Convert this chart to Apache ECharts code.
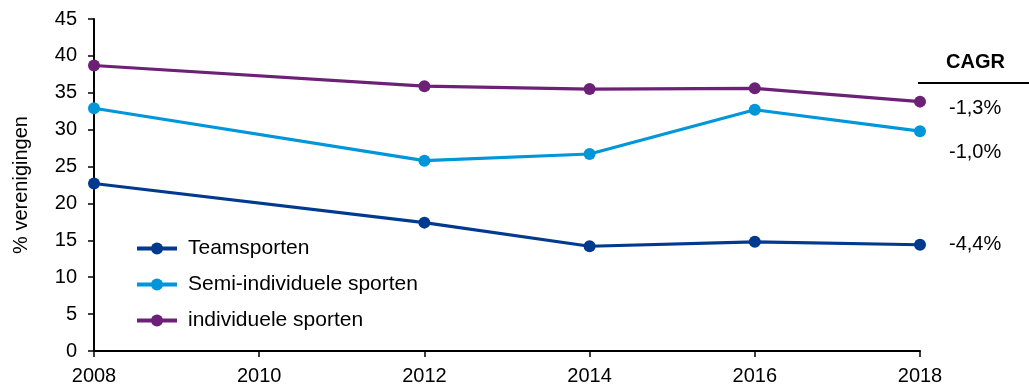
<!DOCTYPE html>
<html><head><meta charset="utf-8">
<script src="https://cdn.jsdelivr.net/npm/echarts@6/dist/echarts.min.js"></script>
<style>html,body{margin:0;padding:0;background:#fff}#c{width:1029px;height:386px}</style>
</head><body><div id="c"></div>
<script>
const years = [2008, 2012, 2014, 2016, 2018];
const teamsporten = [22.7, 17.4, 14.2, 14.8, 14.4];
const semiIndividueel = [32.9, 25.8, 26.7, 32.7, 29.8];
const individueel = [38.7, 35.9, 35.5, 35.6, 33.8];
const seriesNames = ['Teamsporten', 'Semi-individuele sporten', 'individuele sporten'];
const cagrLabels = ['-1,3%', '-1,0%', '-4,4%'];
const colors = ['#003A8F', '#0096DA', '#6C2177'];

const chart = echarts.init(document.getElementById('c'));
const font = 'Liberation Sans, Arial, sans-serif';
function mk(name, vals, color) {
  return {
    name: name, type: 'line', data: years.map((y, i) => [y, vals[i]]),
    symbol: 'circle', symbolSize: 12, showSymbol: true,
    lineStyle: { width: 3.2, color: color }, itemStyle: { color: color },
    animation: false
  };
}
chart.setOption({
  animation: false,
  textStyle: { fontFamily: font },
  grid: { left: 94, right: 109, top: 19, bottom: 35, containLabel: false },
  legend: {
    orient: 'vertical', left: 130, top: 233, itemWidth: 40, itemHeight: 15, itemGap: 15,
    lineStyle: { width: 4 },
    textStyle: { fontSize: 21, color: '#000', fontFamily: font, padding: [0, 0, 0, 6] },
    data: seriesNames
  },
  xAxis: {
    type: 'value', min: 2008, max: 2018, interval: 2,
    axisLine: { lineStyle: { color: '#000', width: 2 } },
    axisTick: { show: true, length: 6, lineStyle: { color: '#000', width: 1.5 } },
    axisLabel: { color: '#000', fontSize: 20, margin: 15, formatter: v => String(v) },
    splitLine: { show: false }
  },
  yAxis: {
    type: 'value', min: 0, max: 45, interval: 5,
    name: '% verenigingen', nameLocation: 'middle', nameGap: 63, nameRotate: 90,
    nameTextStyle: { fontSize: 20, color: '#000' },
    axisLine: { show: true, lineStyle: { color: '#000', width: 2 } },
    axisTick: { show: true, length: 6, lineStyle: { color: '#000', width: 1.5 } },
    axisLabel: { color: '#000', fontSize: 20, margin: 17 },
    splitLine: { show: false }
  },
  series: [
    mk(seriesNames[0], teamsporten, colors[0]),
    mk(seriesNames[1], semiIndividueel, colors[1]),
    mk(seriesNames[2], individueel, colors[2])
  ],
  graphic: [
    { type: 'text', x: 946, y: 62, style: { text: 'CAGR', font: 'bold 20px ' + font, fill: '#000', verticalAlign: 'middle' } },
    { type: 'line', shape: { x1: 918, y1: 83, x2: 1029, y2: 83 }, style: { stroke: '#000', lineWidth: 2 } },
    { type: 'text', x: 949, y: 108, style: { text: cagrLabels[0], font: '20px ' + font, fill: '#000', verticalAlign: 'middle' } },
    { type: 'text', x: 949, y: 152, style: { text: cagrLabels[1], font: '20px ' + font, fill: '#000', verticalAlign: 'middle' } },
    { type: 'text', x: 949, y: 244, style: { text: cagrLabels[2], font: '20px ' + font, fill: '#000', verticalAlign: 'middle' } }
  ]
});
</script></body></html>
